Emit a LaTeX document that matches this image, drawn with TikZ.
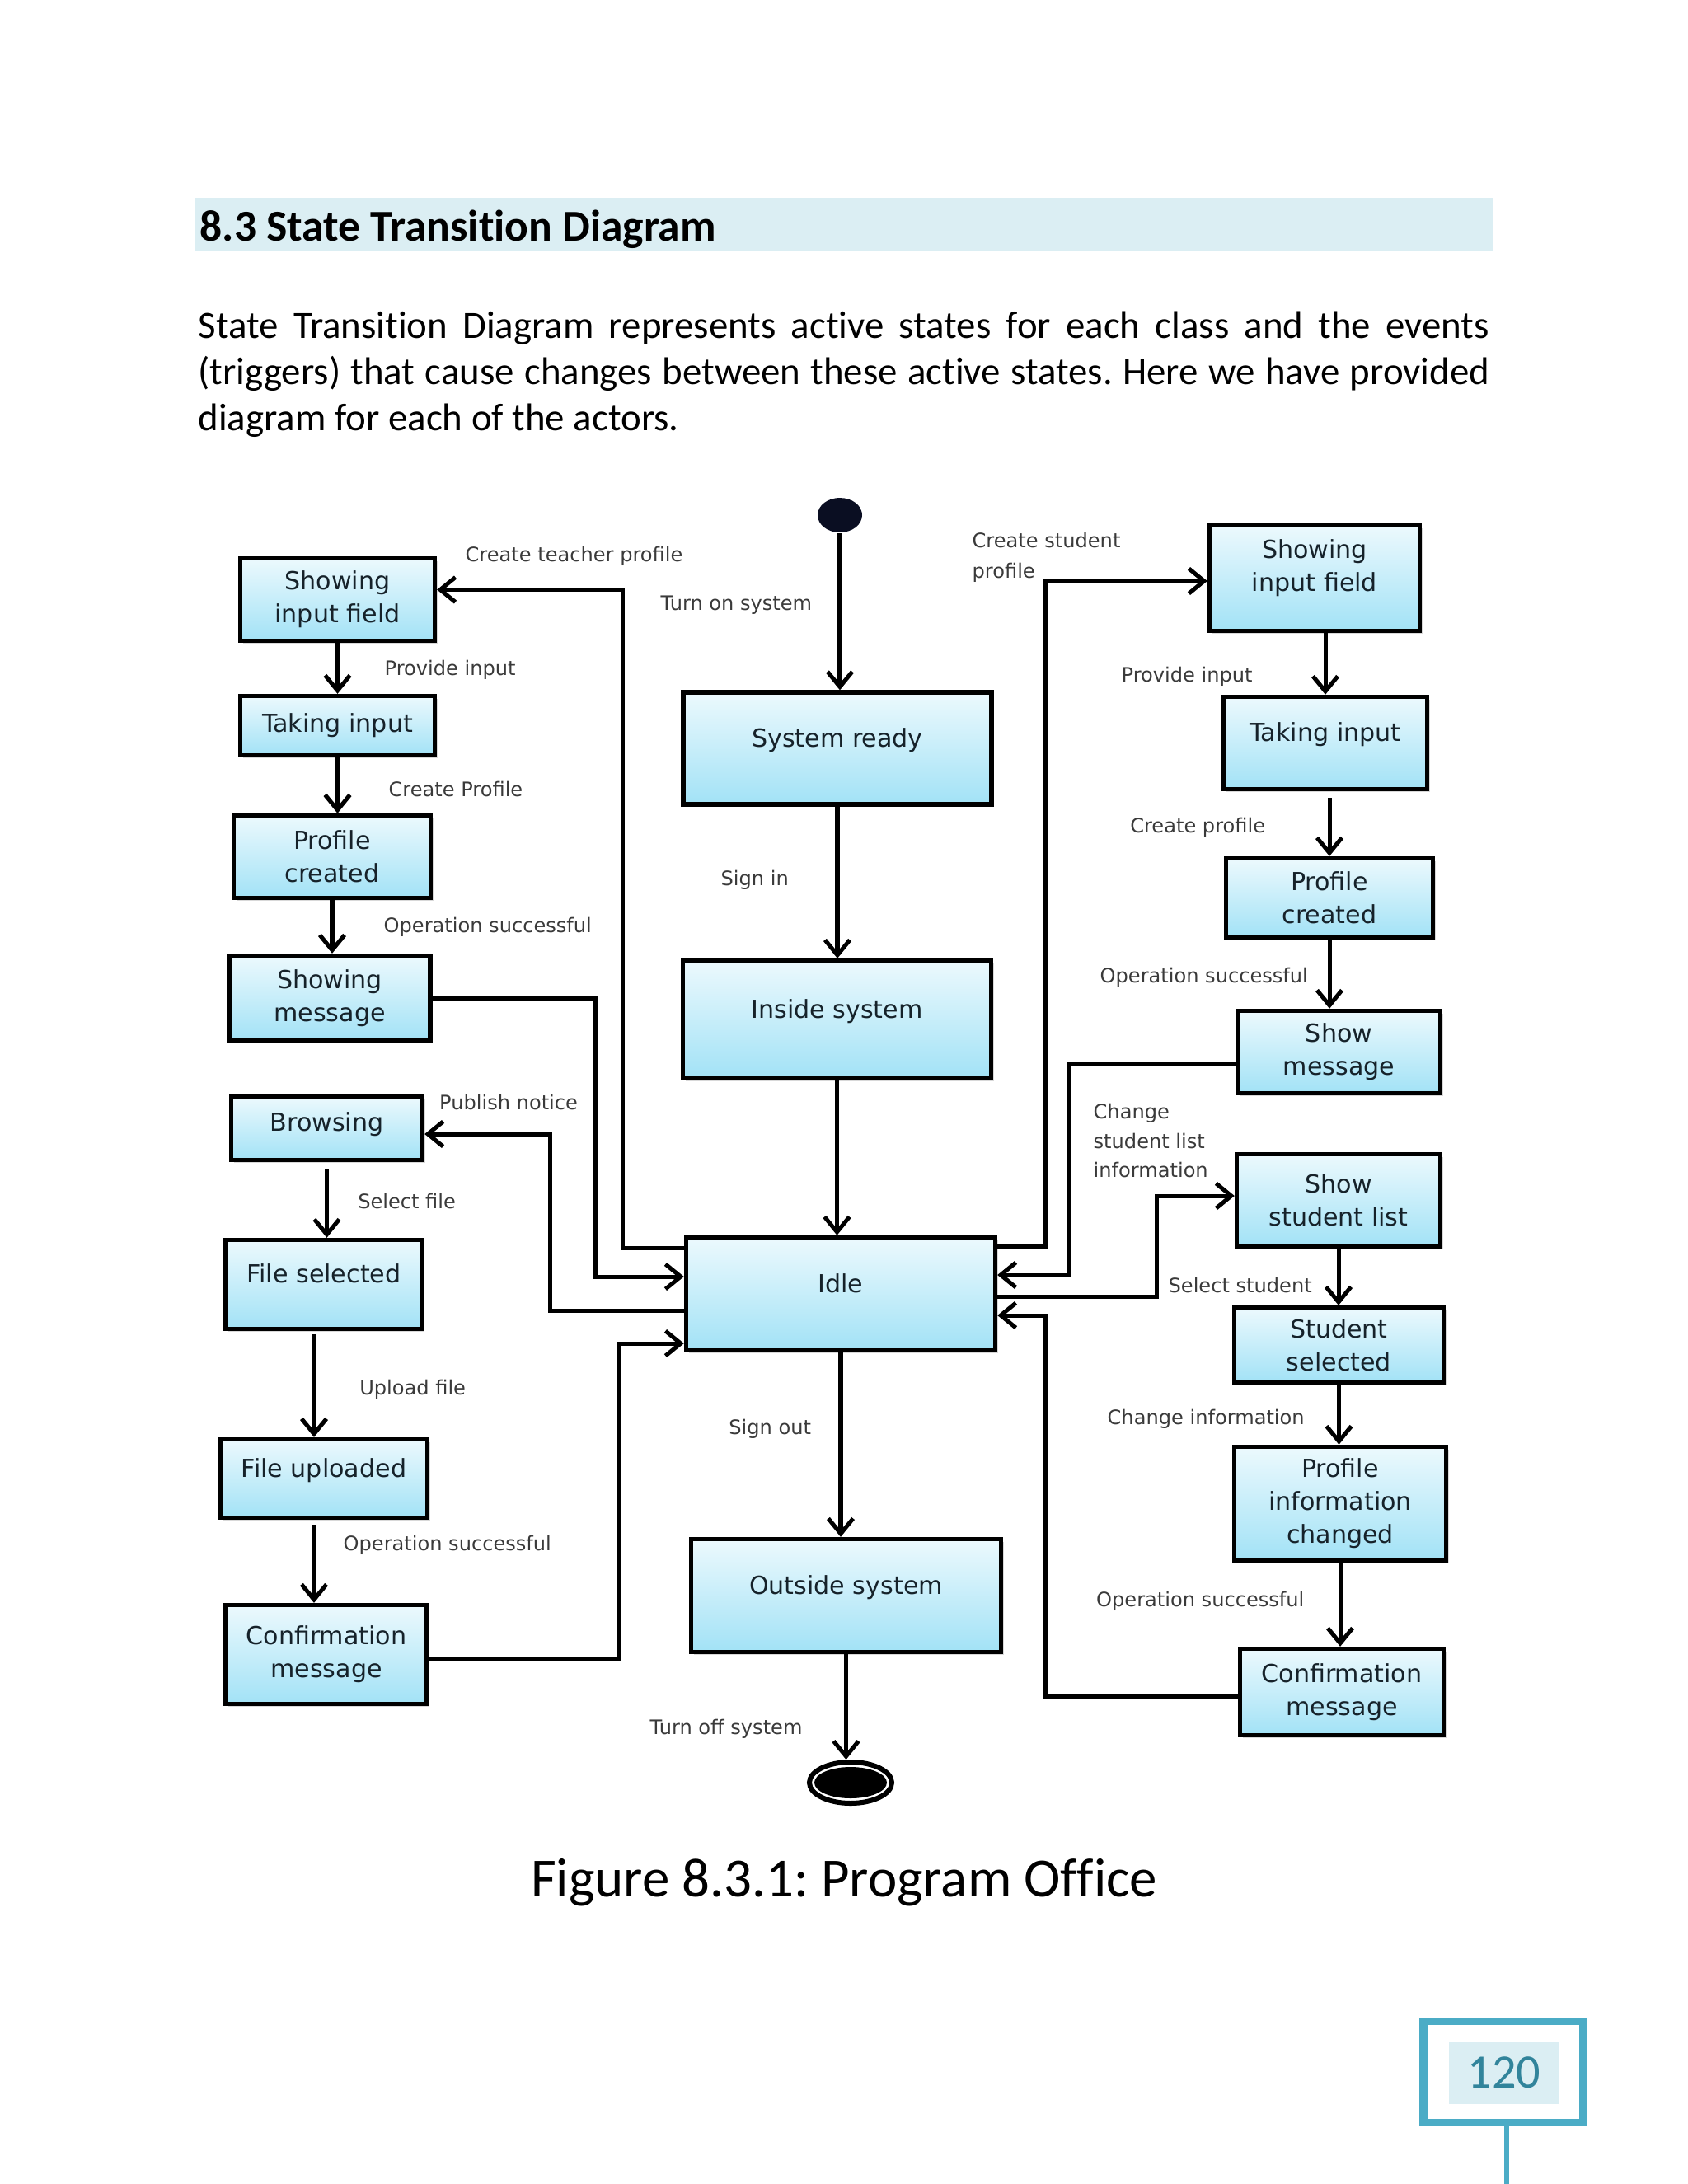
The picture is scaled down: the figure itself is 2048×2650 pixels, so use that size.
\documentclass[tikz,border=0pt]{standalone}
\usepackage{fontspec}
\setmainfont{Carlito}[Ligatures={NoCommon,NoRequired,NoContextual}]
\newfontfamily\dgfont{DejaVu Sans}
\usetikzlibrary{arrows.meta,shadows,calc,shapes.geometric}
\definecolor{bandblue}{RGB}{219,238,243}
\definecolor{accent}{RGB}{75,172,198}
\definecolor{numcol}{RGB}{49,132,155}
\definecolor{boxtop}{RGB}{236,249,253}
\definecolor{boxbot}{RGB}{162,226,246}
\definecolor{boxtext}{RGB}{22,34,42}
\definecolor{lbltext}{RGB}{58,58,58}
\definecolor{initcol}{RGB}{10,14,34}
\def\u{0.29883pt}
\frenchspacing
\begin{document}
\begin{tikzpicture}[x=0.29883pt,y=-0.29883pt,
  stbox/.style={draw=black, line width=1.6pt, top color=boxtop, bottom color=boxbot,
    align=center, font=\dgfont\fontsize{9}{12}\selectfont, text=boxtext, inner sep=2pt,
    drop shadow={shadow xshift=1pt, shadow yshift=-1pt, opacity=0.3}},
  sz/.style 2 args={minimum width={(#1-5)*\u}, minimum height={(#2-5)*\u}},
  liftup/.style={text depth=8pt},
  conn/.style={line width=1.5pt, draw=black},
  arr/.style={conn, -{Straight Barb[length=5.5pt,width=9pt]}},
  lbl/.style={anchor=west, inner sep=0pt, font=\dgfont\fontsize{7.2}{10.5}\selectfont, text=lbltext, align=left},
  bodytext/.style={anchor=base west, inner sep=0pt, font=\fontsize{14}{16.7}\selectfont},
]
\useasboundingbox (0,0) rectangle (2048,2650);
\fill[white] (0,0) rectangle (2048,2650);

% heading
\fill[bandblue] (236,240) rectangle (1811,305);
\node[anchor=base west, inner sep=0pt, font=\bfseries\fontsize{16}{19}\selectfont] (head) at (242,292) {8.3 State Transition Diagram};
\node[bodytext] (p1) at (240,410) {\makebox[468pt][s]{State Transition Diagram represents active states for each class and the events}};
\node[bodytext] (p2) at (240,466) {\makebox[468pt][s]{(triggers) that cause changes between these active states. Here we have provided}};
\node[bodytext] (p3) at (240,522) {diagram for each of the actors.};

% centre column
\node[ellipse, fill=initcol, minimum width=54*\u, minimum height=42*\u, inner sep=0pt] (init) at (1019,625) {};
\node[stbox, liftup, sz={379}{141}] (SR) at (1016,908) {System ready};
\node[stbox, liftup, sz={379}{148}] (IS) at (1015.5,1237) {Inside system};
\node[stbox, liftup, sz={380}{142}] (Idle) at (1020,1570) {Idle};
\node[stbox, liftup, sz={381}{142}] (OS) at (1026.5,1936) {Outside system};
\node[ellipse, draw=black, line width=1.8pt, minimum width=100*\u, minimum height=50*\u, inner sep=0pt] (final) at (1032,2163) {};
\node[ellipse, fill=black, minimum width=88*\u, minimum height=38*\u, inner sep=0pt] (finalin) at (final) {};

% left column
\node[stbox, sz={241}{105}] (L1) at (409.5,727.5) {Showing\\input field};
\node[stbox, sz={241}{77}] (L2) at (409.5,880.5) {Taking input};
\node[stbox, sz={244}{105}] (L3) at (403,1039.5) {Profile\\created};
\node[stbox, sz={249}{108}] (L4) at (400,1211) {Showing\\message};
\node[stbox, sz={237}{82}, text depth=5pt] (L5) at (396.5,1369) {Browsing};
\node[stbox, liftup, sz={243}{113}] (L6) at (393,1558.5) {File selected};
\node[stbox, liftup, sz={256}{100}] (L7) at (393,1794) {File uploaded};
\node[stbox, sz={249}{125}] (L8) at (396,2007.5) {Confirmation\\message};

% right column
\node[stbox, sz={260}{133}, text depth=9pt] (R1) at (1595,701.5) {Showing\\input field};
\node[stbox, liftup, sz={252}{117}] (R2) at (1608,901.5) {Taking input};
\node[stbox, sz={256}{101}] (R3) at (1613,1089.5) {Profile\\created};
\node[stbox, sz={251}{105}] (R4) at (1624.5,1276.5) {Show\\message};
\node[stbox, sz={252}{117}] (R5) at (1624,1456.5) {Show\\student list};
\node[stbox, sz={259}{96}] (R6) at (1624.5,1632) {Student\\selected};
\node[stbox, sz={261.5}{143}] (R7) at (1626,1824.5) {Profile\\information\\changed};
\node[stbox, sz={252}{110}] (R8) at (1628,2053) {Confirmation\\message};

% centre connectors
\draw[arr] (init.south) -- (init.south |- SR.north);
\draw[arr] (SR.south) -- (SR.south |- IS.north);
\draw[arr] (IS.south) -- (IS.south |- Idle.north);
\draw[arr] (Idle.south) -- (Idle.south |- OS.north);
\draw[arr] (OS.south) -- (OS.south |- final.north);

% left chain
\draw[arr] (L1.south) -- (L1.south |- L2.north);
\draw[arr] (L2.south) -- (L2.south |- L3.north);
\draw[arr] (L3.south) -- (L3.south |- L4.north);
\draw[arr] ($(L5.south)+(0,8)$) -- (L5.south |- L6.north);
\draw[arr] ($(L6.south)+(-12,4)$) -- ($(L6.south |- L7.north)+(-12,0)$);
\draw[arr] ($(L7.south)+(-12,6)$) -- ($(L7.south |- L8.north)+(-12,0)$);

% right chain
\draw[arr] (R1.south -| R2.north) -- (R2.north);
\draw[arr] ($(R2.south -| R3.north)+(0,8)$) -- (R3.north);
\draw[arr] (R3.south) -- (R3.south |- R4.north);
\draw[arr] (R5.south) -- (R5.south |- R6.north);
\draw[arr] (R6.south) -- (R6.south |- R7.north);
\draw[arr] (R7.south) -- (R7.south |- R8.north);

% Idle, left side
\draw[arr] ($(Idle.north west)+(0,16)$) -- ++(-74,0) |- ($(L1.east)+(0,-12)$);
\draw[arr] (L4.east) -- ++(198,0) |- ($(Idle.west)+(0,-21)$);
\draw[arr] ($(Idle.west)+(0,20)$) -- ++(-162,0) |- ($(L5.east)+(0,7)$);
\draw[arr] ($(L8.east)+(0,4.5)$) -- ++(231,0) |- ($(Idle.west)+(0,60)$);

% Idle, right side
\draw[arr] ($(Idle.north east)+(0,14)$) -- ++(58,0) |- ($(R1.west)+(0,3.5)$);
\draw[arr] ($(R4.west)+(0,13.5)$) -- ++(-201,0) |- ($(Idle.east)+(0,-23)$);
\draw[arr] ($(Idle.east)+(0,3)$) -- ++(193,0) |- ($(R5.west)+(0,-5.5)$);
\draw[arr] ($(R8.west)+(0,5)$) -- ++(-233,0) |- ($(Idle.east)+(0,26)$);

% labels
\node[lbl] (t1) at (564,675) {Create teacher profile};
\node[lbl] (t2) at (801,734) {Turn on system};
\node[lbl, font=\dgfont\fontsize{7.2}{11}\selectfont] (t3) at (1179,676.5) {Create student\\profile};
\node[lbl] (t4) at (466,813) {Provide input};
\node[lbl] (t5) at (471,957) {Create Profile};
\node[lbl] (t6) at (465,1125) {Operation successful};
\node[lbl] (t7) at (874,1068) {Sign in};
\node[lbl] (t8) at (1360,821) {Provide input};
\node[lbl] (t9) at (1370.6,1004) {Create profile};
\node[lbl] (t10) at (1334,1186) {Operation successful};
\node[lbl] (t11) at (1326,1384) {Change\\student list\\information};
\node[lbl] (t12) at (1417,1559) {Select student};
\node[lbl] (t13) at (1343,1722) {Change information};
\node[lbl] (t14) at (1329.5,1943) {Operation successful};
\node[lbl] (t15) at (532.5,1337.5) {Publish notice};
\node[lbl] (t16) at (433.6,1457) {Select file};
\node[lbl] (t17) at (435.6,1686) {Upload file};
\node[lbl] (t18) at (416,1874.7) {Operation successful};
\node[lbl] (t19) at (883.7,1734) {Sign out};
\node[lbl] (t20) at (788,2098) {Turn off system};

% caption
\node[anchor=base, inner sep=0pt, font=\fontsize{20}{24}\selectfont] (cap) at (1024,2301) {Figure 8.3.1: Program Office};

% page number
\draw[accent, line width=2.7pt] (1727,2452) rectangle (1921,2575);
\fill[bandblue] (1758,2478) rectangle (1892,2553);
\draw[accent, line width=2pt] (1828,2575) -- (1828,2650);
\node[inner sep=0pt, font=\fontsize{17.4}{20}\selectfont, text=numcol] (pnum) at (1825,2515) {120};
\end{tikzpicture}
\end{document}
